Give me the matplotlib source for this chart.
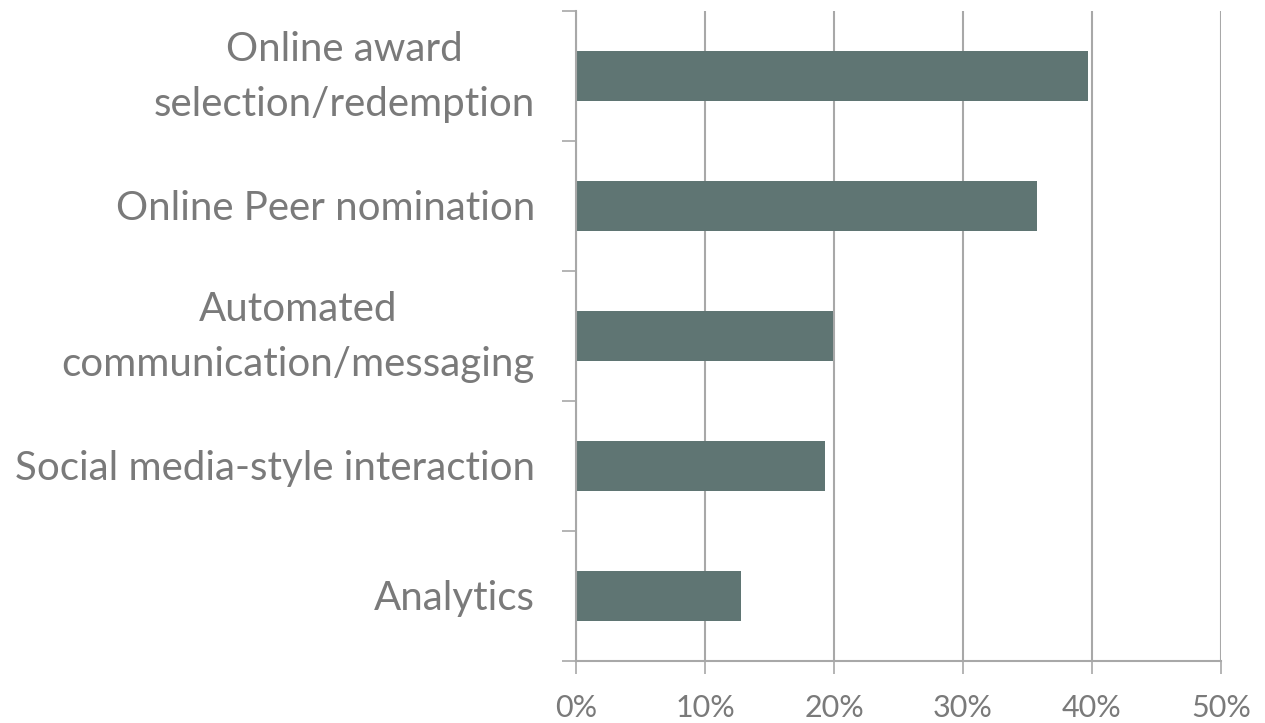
import matplotlib
matplotlib.use("Agg")
import matplotlib.pyplot as plt
from matplotlib.ticker import FixedLocator, FuncFormatter, NullFormatter
from matplotlib.transforms import offset_copy

categories = [
    "Online award\nselection/redemption",
    "Online Peer nomination",
    "Automated\ncommunication/messaging",
    "Social media-style interaction",
    "Analytics",
]
shares = [39.7, 35.7, 19.9, 19.3, 12.8]
x_ticks = [0, 10, 20, 30, 40, 50]

bar_color = "#5F7573"
text_color = "#7A7A7A"
line_color = "#A8A8A8"

plt.rcParams["font.family"] = ["Lato", "DejaVu Sans"]

fig = plt.figure(figsize=(12.65, 7.23), dpi=100)
ax = fig.add_axes([576 / 1265, 1 - 661 / 723, (1221 - 576) / 1265, (661 - 11) / 723])

n = len(categories)
positions = list(range(n))
ax.barh(positions, shares, height=0.39, color=bar_color, zorder=3)

ax.set_xlim(0, 50)
ax.set_ylim(n - 0.5, -0.5)

ax.xaxis.set_major_locator(FixedLocator(x_ticks))
ax.xaxis.set_major_formatter(FuncFormatter(lambda v, _: f"{v:.0f}%"))
ax.grid(axis="x", color=line_color, linewidth=1.5, zorder=0)

# category labels, right-aligned left of the axis, wrapped lines centred
ax.set_yticks(positions)
ax.yaxis.set_major_formatter(NullFormatter())
label_tf = ax.get_yaxis_transform()
for pos, name in zip(positions, categories):
    lift = -1.0 if "\n" in name else -1.6
    ax.text(0, pos, name,
            transform=offset_copy(label_tf, fig=fig, x=-29.5, y=lift, units="points"),
            ha="right", va="center", multialignment="center",
            fontsize=29, color=text_color, linespacing=1.6)

ax.set_yticks([p - 0.5 for p in range(n + 1)], minor=True)
ax.tick_params(axis="y", which="major", length=0)
ax.tick_params(axis="y", which="minor", length=10, width=1.2, color=line_color, direction="out")
ax.tick_params(axis="x", which="major", length=9, width=1.2, color=line_color,
               labelsize=22, labelcolor=text_color, pad=15)

for side in ("top", "right"):
    ax.spines[side].set_visible(False)
for side in ("left", "bottom"):
    ax.spines[side].set_color(line_color)
    ax.spines[side].set_linewidth(1.5)
ax.spines["left"].set_zorder(4)

fig.savefig("out.png", dpi=100, facecolor="white")
